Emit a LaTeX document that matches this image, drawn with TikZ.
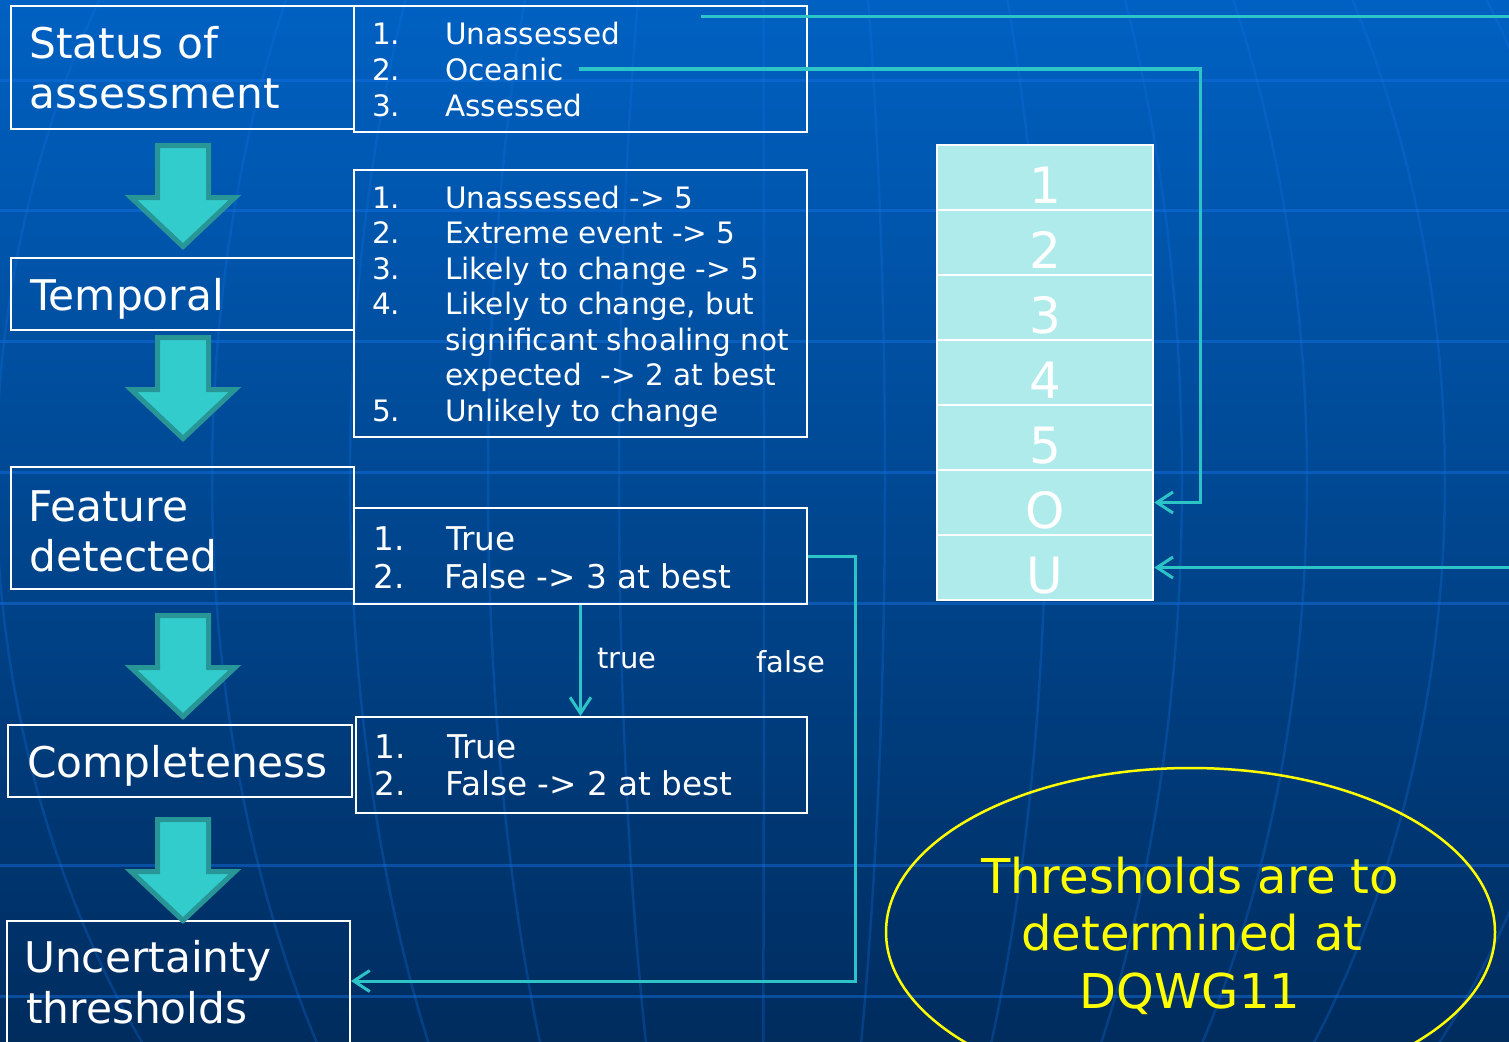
\documentclass[tikz,border=0pt]{standalone}
\usepackage{fontspec}
\setmainfont{DejaVu Sans}
\usetikzlibrary{arrows.meta,shapes.geometric}
\definecolor{bgtop}{RGB}{0,97,194}
\definecolor{bgmid}{RGB}{0,76,152}
\definecolor{bgbot}{RGB}{0,44,94}
\definecolor{gridc}{RGB}{20,115,230}
\definecolor{connc}{RGB}{45,196,200}
\definecolor{arrfill}{RGB}{51,204,204}
\definecolor{arrdraw}{RGB}{40,150,150}
\definecolor{cellfill}{RGB}{175,235,235}
\definecolor{yel}{RGB}{255,255,0}
\tikzset{
  gridline/.style={draw=gridc, line width=3pt, opacity=0.45},
  meridian/.style={draw=gridc, line width=2.5pt, opacity=0.28},
  wbox/.style={draw=white, line width=2pt, inner sep=0pt},
  cell/.style={draw=white, line width=2pt, fill=cellfill, minimum width=216.5pt, minimum height=65pt, inner sep=0pt, text=white, font=\fontsize{50}{60}\selectfont, text height=51pt, text depth=0pt},
  head/.style={anchor=base west, inner sep=0pt, text=white, font=\fontsize{42.3}{50}\selectfont},
  item/.style={anchor=base west, inner sep=0pt, text=white, font=\fontsize{29.5}{35.5}\selectfont},
  itemb/.style={anchor=base west, inner sep=0pt, text=white, font=\fontsize{32.7}{38}\selectfont},
  lbl/.style={anchor=base west, inner sep=0pt, text=white, font=\fontsize{29}{35}\selectfont},
  ytext/.style={anchor=base, inner sep=0pt, text=yel, font=\fontsize{48}{57}\selectfont},
  conn/.style={draw=connc, line width=3pt},
  arr/.style={-{Straight Barb[length=16pt,width=21pt]}},
  blockarr/.pic={\draw[fill=arrfill, draw=arrdraw, line width=5pt, line join=miter]
     (-25.5,2.5) -- (25.5,2.5) -- (25.5,54.5) -- (52,54.5) -- (0,103.5) -- (-52,54.5) -- (-25.5,54.5) -- cycle;}
}
\begin{document}
\begin{tikzpicture}[x=1pt,y=-1pt]
\useasboundingbox (0,0) rectangle (1509,1041);
\clip (0,0) rectangle (1509,1041);
\shade[top color=bgtop, middle color=bgmid, bottom color=bgbot] (0,0) rectangle (1509,1041);
% background grid
\foreach \yy in {80,210,341,472,603,865,996}
  \draw[gridline] (0,\yy) -- (1509,\yy);
\foreach \a in {-764,-548,-410,-272,-141,4,125,286,422,547,685,840}
  \draw[meridian] plot[domain=-31:37, samples=25, smooth] ({760+\a*cos(\x)},{480+957*sin(\x)});

% left column boxes
\node[wbox, minimum width=343pt, minimum height=123pt] (stB) at (182.5,67.5) {};
\node[wbox, minimum width=343pt, minimum height=72pt] (tpB) at (182.5,294) {};
\node[wbox, minimum width=343pt, minimum height=122pt] (fdB) at (182.5,528) {};
\node[wbox, minimum width=344pt, minimum height=72pt] (cpB) at (180,761) {};
\node[wbox, minimum width=343pt, minimum height=139pt] (utB) at (178.5,990.5) {};
% list boxes
\node[wbox, minimum width=453pt, minimum height=126pt] (stL) at (580.5,69) {};
\node[wbox, minimum width=453pt, minimum height=267pt] (tpL) at (580.5,303.5) {};
\node[wbox, minimum width=453pt, minimum height=96pt] (fdL) at (580.5,556) {};
\node[wbox, minimum width=451.5pt, minimum height=96pt] (cpL) at (581.25,765) {};

% header texts
\node[head] (st1) at (29,59) {Status of};
\node[head] (st2) at (29,108) {assessment};
\node[head] (tp) at (30,310) {Temporal};
\node[head] (fd1) at (28,521) {Feature};
\node[head] (fd2) at (29,571) {detected};
\node[head] (cp) at (27,777) {Completeness};
\node[head] (ut1) at (24,972) {Uncertainty};
\node[head] (ut2) at (26,1023) {thresholds};

% block arrows
\pic at (183,143) {blockarr};
\pic at (183,335) {blockarr};
\pic at (183,613) {blockarr};
\pic at (183,817) {blockarr};

% status list
\node[item] (s1n) at (372,45) {1.};
\node[item] (s1t) at (445,45) {Unassessed};
\node[item] (s2n) at (372,80.5) {2.};
\node[item] (s2t) at (445,80.5) {Oceanic};
\node[item] (s3n) at (372,116) {3.};
\node[item] (s3t) at (445,116) {Assessed};

% temporal list
\node[item] (t1n) at (372,208) {1.};
\node[item] (t1t) at (445,208) {Unassessed -> 5};
\node[item] (t2n) at (372,243.5) {2.};
\node[item] (t2t) at (445,243.5) {Extreme event -> 5};
\node[item] (t3n) at (372,279) {3.};
\node[item] (t3t) at (445,279) {Likely to change -> 5};
\node[item] (t4n) at (372,314.5) {4.};
\node[item] (t4t) at (445,314.5) {Likely to change, but};
\node[item] (t4b) at (445,350) {significant shoaling not};
\node[item] (t4c) at (445,385.5) {expected\ \ -> 2 at best};
\node[item] (t5n) at (372,421) {5.};
\node[item] (t5t) at (445,421) {Unlikely to change};

% feature list
\node[itemb] (f1n) at (373,550) {1.};
\node[itemb] (f1t) at (446,550) {True};
\node[itemb] (f2n) at (373,588) {2.};
\node[itemb] (f2t) at (444,588) {False -> 3 at best};

% completeness list
\node[itemb] (c1n) at (374,758) {1.};
\node[itemb] (c1t) at (447,758) {True};
\node[itemb] (c2n) at (374,795) {2.};
\node[itemb] (c2t) at (445,795) {False -> 2 at best};

% scale table
\node[cell] (c1) at (1045,177.5) {1};
\node[cell] (c2) at (1045,242.5) {2};
\node[cell] (c3) at (1045,307.5) {3};
\node[cell] (c4) at (1045,372.5) {4};
\node[cell] (c5) at (1045,437.5) {5};
\node[cell] (cO) at (1045,502.5) {O};
\node[cell] (cU) at (1045,567.5) {U};

% connectors
\coordinate (ua) at (701,17);
\coordinate (uaR) at (1530,17);
\coordinate (oc) at (579,69);
\coordinate (ocR) at (1200,69);
\coordinate (fc) at (855,981);
\coordinate (uin) at (351,981);
\draw[conn, arr] (ua) -- (uaR) |- (cU.east);
\draw[conn, arr] (oc) -- (ocR) |- (cO.east);
\draw[conn, arr] (fdL.east) -| (fc) -- (uin);
\draw[conn, arr] (fdL.south) -- (fdL.south |- cpL.north);
\node[lbl] (ltrue) at (597,668) {true};
\node[lbl] (lfalse) at (756,672) {false};

% ellipse note
\node[draw=yel, line width=2.5pt, ellipse, minimum width=609pt, minimum height=328pt, inner sep=0pt] (ell) at (1190.5,932) {};
\node[ytext] (y1) at (1190,893) {Thresholds are to};
\node[ytext] (y2) at (1192,950) {determined at};
\node[ytext] (y3) at (1190,1008) {DQWG11};
\end{tikzpicture}
\end{document}
